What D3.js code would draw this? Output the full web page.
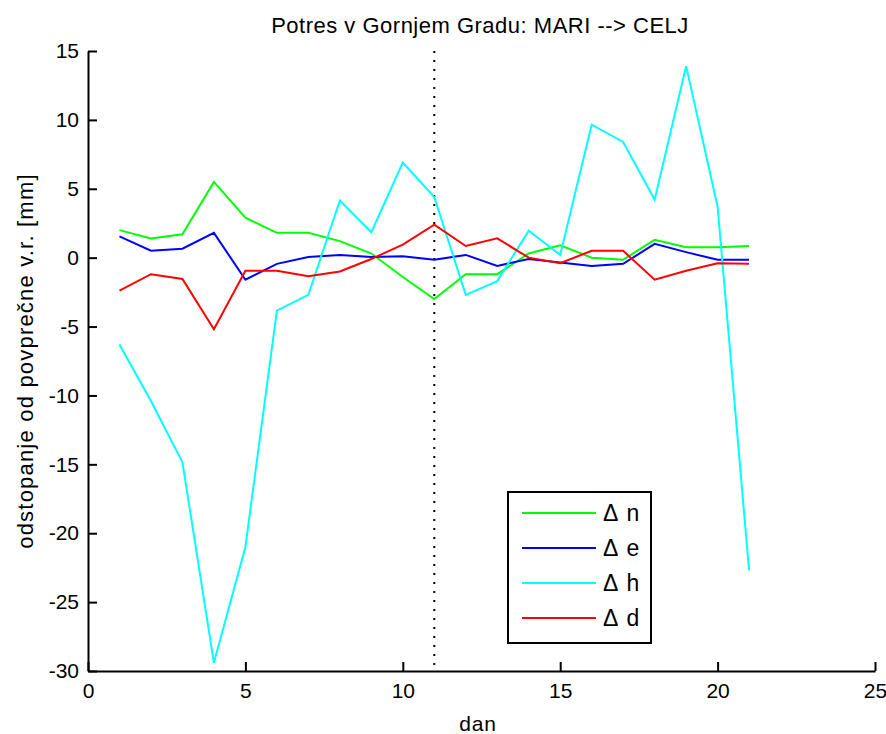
<!DOCTYPE html>
<html><head><meta charset="utf-8">
<script src="https://cdn.jsdelivr.net/npm/d3@7"></script>
<style>
body{margin:0;background:#fff;}
svg text{font-family:"Liberation Sans",Arial,Helvetica,sans-serif;fill:#000;}
</style></head>
<body><svg id="c" width="886" height="734"></svg>
<script>
const days = d3.range(1, 22);
const dN = [2.0, 1.4, 1.7, 5.5, 2.9, 1.8, 1.8, 1.2, 0.3, -1.4, -3.0, -1.2, -1.2, 0.3, 0.9, 0.0, -0.15, 1.3, 0.75, 0.75, 0.85];
const dE = [1.55, 0.5, 0.65, 1.8, -1.6, -0.45, 0.05, 0.2, 0.05, 0.1, -0.15, 0.2, -0.6, -0.1, -0.35, -0.6, -0.45, 1.0, 0.4, -0.15, -0.15];
const dH = [-6.3, -10.4, -14.85, -29.4, -21.0, -3.85, -2.7, 4.15, 1.85, 6.9, 4.4, -2.7, -1.7, 1.95, 0.2, 9.65, 8.4, 4.2, 13.9, 3.7, -22.7];
const dD = [-2.4, -1.2, -1.55, -5.2, -0.95, -0.95, -1.35, -1.0, -0.1, 0.95, 2.4, 0.85, 1.4, 0.0, -0.4, 0.5, 0.5, -1.6, -0.95, -0.4, -0.45];
const seriesNames = ["\u0394 n", "\u0394 e", "\u0394 h", "\u0394 d"];
const seriesColors = ["#00ff00", "#0000ff", "#00ffff", "#ff0000"];
const xTicks = [0, 5, 10, 15, 20, 25];
const yTicks = [-30, -25, -20, -15, -10, -5, 0, 5, 10, 15];
const eventDay = 11;
const title = "Potres v Gornjem Gradu: MARI --> CELJ";
const xLabel = "dan";
const yLabel = "odstopanje od povprečne v.r. [mm]";

const svg = d3.select("#c");
const L = 88, R = 875, T = 51, B = 671;
const x = d3.scaleLinear().domain([0, 25]).range([L, R]);
const y = d3.scaleLinear().domain([-30, 15]).range([B, T]);
const FS = 21;
const fmt = v => String(v);

// dotted event line
svg.append("line").attr("x1", x(eventDay)).attr("x2", x(eventDay))
  .attr("y1", T).attr("y2", B).attr("stroke", "#000")
  .attr("stroke-width", 2).attr("stroke-dasharray", "2 7");

const all = [dN, dE, dH, dD];
const line = d3.line().x((d, i) => x(days[i])).y(d => y(d));
all.forEach((s, k) => {
  svg.append("path").datum(s).attr("d", line).attr("fill", "none")
    .attr("stroke", seriesColors[k]).attr("stroke-width", 2)
    .attr("stroke-linejoin", "miter");
});

// axes
const gx = svg.append("g").attr("transform", `translate(0,${B})`)
  .call(d3.axisBottom(x).tickValues(xTicks).tickFormat(fmt).tickSize(-9).tickPadding(12).tickSizeOuter(0));
const gy = svg.append("g").attr("transform", `translate(${L},0)`)
  .call(d3.axisLeft(y).tickValues(yTicks).tickFormat(fmt).tickSize(-9).tickPadding(9).tickSizeOuter(0));
[gx, gy].forEach(g => {
  g.select(".domain").attr("stroke", "#000").attr("stroke-width", 2);
  g.selectAll(".tick line").attr("stroke", "#000").attr("stroke-width", 2);
  g.selectAll(".tick text").attr("font-size", FS).attr("font-family", null).attr("fill", "#000");
});

// title and labels
svg.append("text").attr("x", 480).attr("y", 33).attr("text-anchor", "middle")
  .attr("font-size", 22).attr("letter-spacing", 0.5).text(title);
svg.append("text").attr("x", 478).attr("y", 731).attr("text-anchor", "middle")
  .attr("font-size", FS).attr("letter-spacing", 0.8).text(xLabel);
svg.append("text").attr("transform", `translate(33,361) rotate(-90)`)
  .attr("text-anchor", "middle").attr("font-size", 22).attr("letter-spacing", 1.2).text(yLabel);

// legend
const lg = svg.append("g");
lg.append("rect").attr("x", 508).attr("y", 492).attr("width", 143).attr("height", 151)
  .attr("fill", "#fff").attr("stroke", "#000").attr("stroke-width", 2);
const rowY = d3.scaleLinear().domain([0, 3]).range([513, 618]);
seriesNames.forEach((n, k) => {
  lg.append("line").attr("x1", 522).attr("x2", 596).attr("y1", rowY(k)).attr("y2", rowY(k))
    .attr("stroke", seriesColors[k]).attr("stroke-width", 2);
  lg.append("text").attr("x", 603).attr("y", rowY(k)).attr("dy", "0.36em")
    .attr("font-size", FS + 2).attr("letter-spacing", 1.5).text(n);
});
</script></body></html>
